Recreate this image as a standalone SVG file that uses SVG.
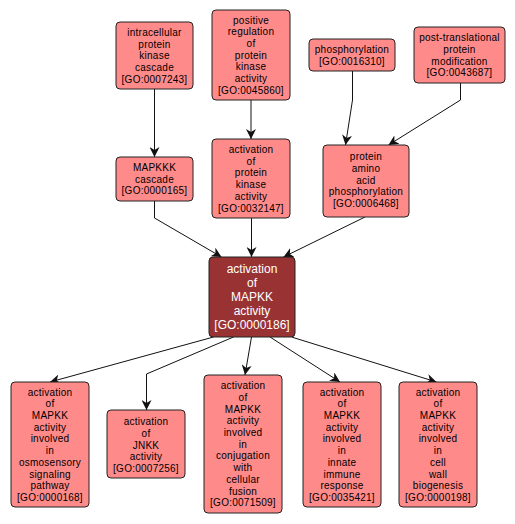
<svg xmlns="http://www.w3.org/2000/svg" width="515" height="524" viewBox="0 0 515 524">
<style>
.n rect{fill:#ff8a8a;stroke:#222;stroke-width:1}
.n text{font-family:"Liberation Sans",Arial,sans-serif;font-size:10px;fill:#000;text-anchor:middle;letter-spacing:0.25px}
#n8 rect{fill:#993333}
#n8 text{font-size:12px;fill:#fff;letter-spacing:0}
.e path{fill:none;stroke:#111;stroke-width:1;marker-end:url(#ah)}
</style>
<defs>
<marker id="ah" markerUnits="userSpaceOnUse" markerWidth="10" markerHeight="10" viewBox="0 0 10 10" refX="10" refY="5" orient="auto">
<path d="M0,0 L10,5 L0,10 L3,5 z" fill="#111"/>
</marker>
</defs>
<rect width="515" height="524" fill="#fff"/>
<g id="edges" class="e">
<path d="M154.5,89 L154.5,157"/>
<path d="M251,100 L251,139"/>
<path d="M352.5,71 L352.5,100 L345.5,145"/>
<path d="M460.5,83 L460.5,100 L388.5,145"/>
<path d="M154.5,201 L154.5,218 L221.5,257"/>
<path d="M251.5,218 L251.5,257"/>
<path d="M365,217 L283.5,257"/>
<path d="M213.5,337 L50,382"/>
<path d="M233.5,337 L146.5,374 L146.5,410"/>
<path d="M251.5,337 L245,375"/>
<path d="M270,337 L340,382"/>
<path d="M291.5,337 L436.5,382"/>
</g>
<g id="n1" class="n"><rect x="116" y="22" width="77" height="67" rx="4"/>
<text><tspan x="154.5" y="35.8">intracellular</tspan><tspan x="154.5" y="47.5">protein</tspan><tspan x="154.5" y="59.2">kinase</tspan><tspan x="154.5" y="70.9">cascade</tspan><tspan x="154.5" y="82.6">[GO:0007243]</tspan></text></g>
<g id="n2" class="n"><rect x="212" y="10" width="78" height="90" rx="4"/>
<text><tspan x="251" y="23.6">positive</tspan><tspan x="251" y="35.3">regulation</tspan><tspan x="251" y="47">of</tspan><tspan x="251" y="58.7">protein</tspan><tspan x="251" y="70.4">kinase</tspan><tspan x="251" y="82.1">activity</tspan><tspan x="251" y="93.8">[GO:0045860]</tspan></text></g>
<g id="n3" class="n"><rect x="309" y="39" width="86" height="32" rx="4"/>
<text><tspan x="352" y="52.9">phosphorylation</tspan><tspan x="352" y="64.6">[GO:0016310]</tspan></text></g>
<g id="n4" class="n"><rect x="414" y="27" width="91" height="56" rx="4"/>
<text><tspan x="459.5" y="41.2">post-translational</tspan><tspan x="459.5" y="52.9">protein</tspan><tspan x="459.5" y="64.6">modification</tspan><tspan x="459.5" y="76.3">[GO:0043687]</tspan></text></g>
<g id="n5" class="n"><rect x="116" y="157" width="77" height="44" rx="4"/>
<text><tspan x="154.5" y="171">MAPKKK</tspan><tspan x="154.5" y="182.7">cascade</tspan><tspan x="154.5" y="194.4">[GO:0000165]</tspan></text></g>
<g id="n6" class="n"><rect x="212" y="139" width="78" height="79" rx="4"/>
<text><tspan x="251" y="153">activation</tspan><tspan x="251" y="164.7">of</tspan><tspan x="251" y="176.4">protein</tspan><tspan x="251" y="188.1">kinase</tspan><tspan x="251" y="199.8">activity</tspan><tspan x="251" y="211.5">[GO:0032147]</tspan></text></g>
<g id="n7" class="n"><rect x="323" y="145" width="86" height="72" rx="4"/>
<text><tspan x="366" y="160.3">protein</tspan><tspan x="366" y="172">amino</tspan><tspan x="366" y="183.7">acid</tspan><tspan x="366" y="195.4">phosphorylation</tspan><tspan x="366" y="207.1">[GO:0006468]</tspan></text></g>
<g id="n8" class="n"><rect x="209" y="257" width="86" height="80" rx="4"/>
<text><tspan x="252" y="273.3">activation</tspan><tspan x="252" y="287.3">of</tspan><tspan x="252" y="301.3">MAPKK</tspan><tspan x="252" y="315.3">activity</tspan><tspan x="252" y="329.3">[GO:0000186]</tspan></text></g>
<g id="n9" class="n"><rect x="11" y="382" width="78" height="125" rx="4"/>
<text><tspan x="50" y="395.6">activation</tspan><tspan x="50" y="407.3">of</tspan><tspan x="50" y="419">MAPKK</tspan><tspan x="50" y="430.7">activity</tspan><tspan x="50" y="442.4">involved</tspan><tspan x="50" y="454.1">in</tspan><tspan x="50" y="465.8">osmosensory</tspan><tspan x="50" y="477.5">signaling</tspan><tspan x="50" y="489.2">pathway</tspan><tspan x="50" y="500.9">[GO:0000168]</tspan></text></g>
<g id="n10" class="n"><rect x="107" y="410" width="78" height="68" rx="4"/>
<text><tspan x="146" y="425.3">activation</tspan><tspan x="146" y="437">of</tspan><tspan x="146" y="448.7">JNKK</tspan><tspan x="146" y="460.4">activity</tspan><tspan x="146" y="472.1">[GO:0007256]</tspan></text></g>
<g id="n11" class="n"><rect x="204" y="375" width="78" height="138" rx="4"/>
<text><tspan x="243" y="389.2">activation</tspan><tspan x="243" y="400.9">of</tspan><tspan x="243" y="412.6">MAPKK</tspan><tspan x="243" y="424.3">activity</tspan><tspan x="243" y="436">involved</tspan><tspan x="243" y="447.7">in</tspan><tspan x="243" y="459.4">conjugation</tspan><tspan x="243" y="471.1">with</tspan><tspan x="243" y="482.8">cellular</tspan><tspan x="243" y="494.5">fusion</tspan><tspan x="243" y="506.2">[GO:0071509]</tspan></text></g>
<g id="n12" class="n"><rect x="303" y="382" width="78" height="125" rx="4"/>
<text><tspan x="342" y="395.6">activation</tspan><tspan x="342" y="407.3">of</tspan><tspan x="342" y="419">MAPKK</tspan><tspan x="342" y="430.7">activity</tspan><tspan x="342" y="442.4">involved</tspan><tspan x="342" y="454.1">in</tspan><tspan x="342" y="465.8">innate</tspan><tspan x="342" y="477.5">immune</tspan><tspan x="342" y="489.2">response</tspan><tspan x="342" y="500.9">[GO:0035421]</tspan></text></g>
<g id="n13" class="n"><rect x="399" y="382" width="78" height="125" rx="4"/>
<text><tspan x="438" y="395.6">activation</tspan><tspan x="438" y="407.3">of</tspan><tspan x="438" y="419">MAPKK</tspan><tspan x="438" y="430.7">activity</tspan><tspan x="438" y="442.4">involved</tspan><tspan x="438" y="454.1">in</tspan><tspan x="438" y="465.8">cell</tspan><tspan x="438" y="477.5">wall</tspan><tspan x="438" y="489.2">biogenesis</tspan><tspan x="438" y="500.9">[GO:0000198]</tspan></text></g>
</svg>
